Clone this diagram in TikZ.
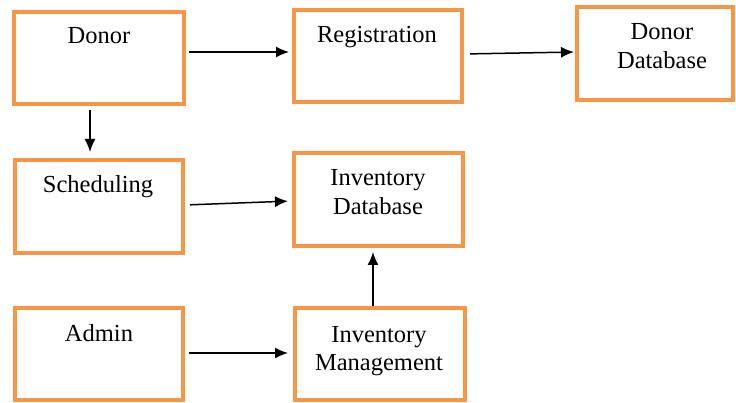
\documentclass[tikz,border=0pt]{standalone}
\usepackage{fontspec}
\setmainfont{Liberation Serif}
\usetikzlibrary{arrows.meta}
\definecolor{boxorange}{HTML}{F79646}
\begin{document}
\begin{tikzpicture}[x=1pt,y=-1pt,
  box/.style={draw=boxorange,line width=4pt,fill=white,inner sep=0pt,rectangle},
  lbl/.style={anchor=base,inner sep=0pt,font=\fontsize{24.5}{29}\selectfont},
  arr/.style={line width=1.5pt,-{Latex[length=13pt,width=11pt]}}]
\useasboundingbox (0,0) rectangle (736,403);
% boxes
\node[box,minimum width=170pt,minimum height=92pt] (donor) at (99,58) {};
\node[box,minimum width=168pt,minimum height=92pt] (reg) at (378,56) {};
\node[box,minimum width=156pt,minimum height=93pt] (ddb) at (655,53.5) {};
\node[box,minimum width=168pt,minimum height=93pt] (sched) at (99,206.5) {};
\node[box,minimum width=169pt,minimum height=93pt] (idb) at (378.5,199.5) {};
\node[box,minimum width=168pt,minimum height=92pt] (admin) at (99,354) {};
\node[box,minimum width=170pt,minimum height=92pt] (imgmt) at (380,354) {};
% labels
\node[lbl] (tdonor) at (99,44) {Donor};
\node[lbl] (treg) at (377,43) {Registration};
\node[lbl] (tddb1) at (662,40) {Donor};
\node[lbl] (tddb2) at (662,69) {Database};
\node[lbl] (tsched) at (98,193) {Scheduling};
\node[lbl] (tidb1) at (378,186) {Inventory};
\node[lbl] (tidb2) at (378,215) {Database};
\node[lbl] (tadmin) at (99,341) {Admin};
\node[lbl] (timg1) at (379,342) {Inventory};
\node[lbl] (timg2) at (379,370) {Management};
% connectors
\draw[arr,shorten <=3pt,shorten >=3pt] ([yshift=6pt]donor.east) -- ([yshift=6pt]donor.east -| reg.west);
\draw[arr,shorten <=6pt,shorten >=1pt] ([yshift=2pt]reg.east) -- ([yshift=1.5pt]ddb.west);
\draw[arr,shorten <=4pt,shorten >=6pt] ([xshift=-9pt]donor.south) -- ([xshift=-9pt]donor.south |- sched.north);
\draw[arr,shorten <=5pt,shorten >=4pt] ([yshift=1.5pt]sched.east) -- ([yshift=-1.5pt]idb.west);
\draw[arr,shorten <=4pt,shorten >=5pt] ([yshift=1pt]admin.east) -- ([yshift=1pt]imgmt.west);
\draw[arr,shorten <=0pt,shorten >=4pt] ([xshift=-7pt]imgmt.north) -- ([xshift=-7pt]imgmt.north |- idb.south);
\end{tikzpicture}
\end{document}
